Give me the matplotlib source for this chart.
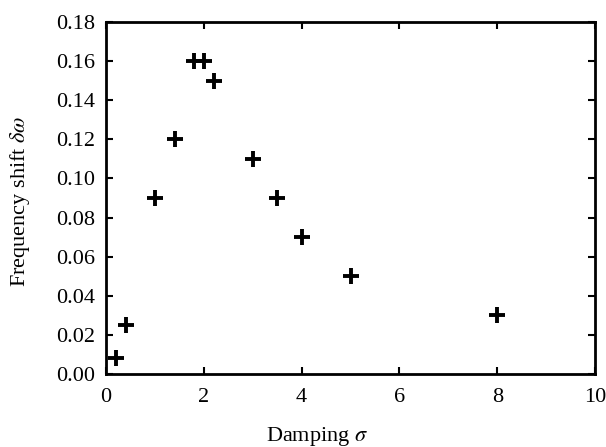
import matplotlib
matplotlib.use("Agg")
import matplotlib.pyplot as plt

damping = [0.2, 0.4, 1.0, 1.4, 1.8, 2.0, 2.2, 3.0, 3.5, 4.0, 5.0, 8.0]
shift = [0.008, 0.025, 0.09, 0.12, 0.16, 0.16, 0.15, 0.11, 0.09, 0.07, 0.05, 0.03]
xticks = [0, 2, 4, 6, 8, 10]
yticks = [0.00, 0.02, 0.04, 0.06, 0.08, 0.10, 0.12, 0.14, 0.16, 0.18]

plt.rcParams['font.family'] = ['Liberation Serif', 'DejaVu Serif']
plt.rcParams['mathtext.fontset'] = 'stix'

fig = plt.figure(figsize=(6.06, 4.47), dpi=100)
ax = fig.add_axes([0.175, 0.163, 0.807, 0.788])
ax.plot(damping, shift, linestyle='none', marker='+', markersize=11,
        markeredgewidth=2.8, color='black')
ax.set_xlim(0, 10)
ax.set_ylim(0, 0.18)
ax.set_xticks(xticks)
ax.set_yticks(yticks)
ax.set_xticklabels([str(t) for t in xticks])
ax.set_yticklabels([f"{t:.2f}" for t in yticks])
ax.tick_params(direction='in', length=5, width=1.5, labelsize=16,
               top=True, right=True)
ax.tick_params(axis='y', pad=8)
ax.tick_params(axis='x', pad=10)
for s in ax.spines.values():
    s.set_linewidth(2)
ax.set_xlabel(r'Damping $\sigma$', fontsize=16)
ax.xaxis.set_label_coords(0.431, -0.143)
ax.set_ylabel(r'Frequency shift $\delta\omega$', fontsize=16)
ax.yaxis.set_label_coords(-0.152, 0.49)
fig.savefig('out.png', dpi=100)
